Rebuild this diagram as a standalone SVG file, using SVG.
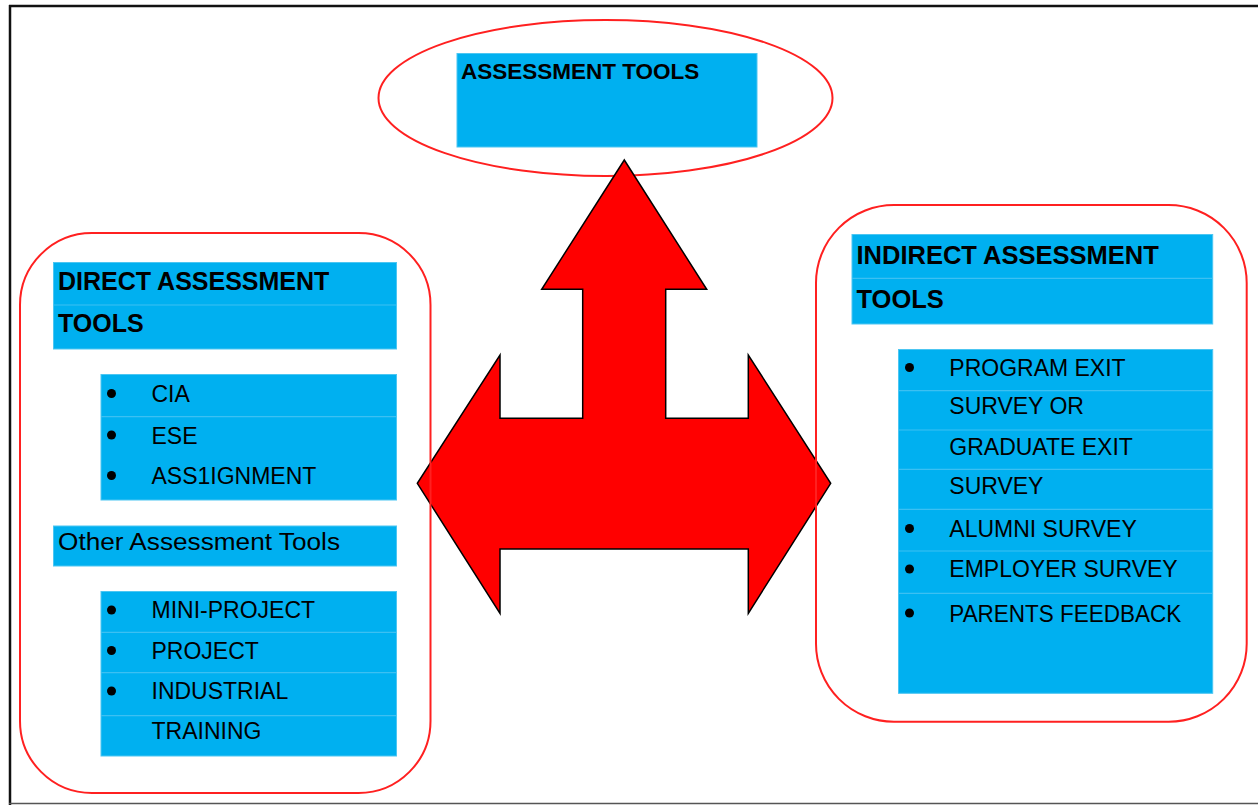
<svg xmlns="http://www.w3.org/2000/svg" width="1258" height="805" viewBox="0 0 1258 805">
  <style>
    .frame { fill: none; stroke: #ff2020; stroke-width: 2; }
    .blue { fill: #00b0f0; stroke: #4cc6f2; stroke-width: 1; }
    .sep { stroke: #3cc0f2; stroke-width: 1.2; }
    .hd { font-family: "Liberation Sans", Arial, sans-serif; font-weight: bold; font-size: 25px; fill: #000; }
    .it { font-family: "Liberation Sans", Arial, sans-serif; font-size: 23px; fill: #000; }
    .dot { fill: #000; }
  </style>
  <rect x="0" y="0" width="1258" height="805" fill="#fff"/>
  <g id="page-border">
    <line x1="9" y1="6" x2="1258" y2="6" stroke="#111" stroke-width="2.5"/>
    <line x1="10" y1="5" x2="10" y2="805" stroke="#111" stroke-width="2.5"/>
    <line x1="9" y1="803.5" x2="1258" y2="803.5" stroke="#555" stroke-width="1.5"/>
  </g>

  <g id="assessment-tools">
    <ellipse cx="605.5" cy="98" rx="227" ry="78" class="frame"/>
    <rect x="457" y="53.5" width="300" height="93.5" class="blue"/>
    <text x="461" y="78.5" class="hd" style="font-size:22.5px">ASSESSMENT TOOLS</text>
  </g>

  <g id="connectors">
    <polygon points="624.3,160 706.7,289.3 665.7,289.3 665.7,418.3 748.3,418.3 748.3,355 830.7,483.3 748.3,613.3 748.3,549 500,549 500,613.3 417.3,483.3 500,355 500,418.3 582.7,418.3 582.7,289.3 541.7,289.3" fill="#ff0000" stroke="#000" stroke-width="1.5" stroke-linejoin="miter"/>
  </g>

  <g id="direct-tools">
    <rect x="20" y="233" width="410.5" height="560" rx="72" ry="72" class="frame"/>
    <rect x="53.5" y="262.5" width="343" height="86.5" class="blue"/>
    <line x1="54" y1="305" x2="396" y2="305" class="sep"/>
    <text x="58" y="290" class="hd">DIRECT ASSESSMENT</text>
    <text x="58" y="332" class="hd">TOOLS</text>

    <rect x="101" y="374.5" width="295.5" height="125.5" class="blue"/>
    <line x1="101" y1="416.7" x2="396" y2="416.7" class="sep"/>
    <circle cx="111.5" cy="393.5" r="4.5" class="dot"/>
    <circle cx="111.5" cy="435" r="4.5" class="dot"/>
    <circle cx="111.5" cy="475.5" r="4.5" class="dot"/>
    <text x="151.5" y="401.5" class="it">CIA</text>
    <text x="151.5" y="443.5" class="it">ESE</text>
    <text x="151.5" y="484" class="it">ASS1IGNMENT</text>

    <rect x="53.5" y="526" width="343" height="40" class="blue"/>
    <text x="58" y="550" class="it" textLength="282" lengthAdjust="spacingAndGlyphs">Other Assessment Tools</text>

    <rect x="101" y="591.5" width="295.5" height="164.5" class="blue"/>
    <line x1="101" y1="632.3" x2="396" y2="632.3" class="sep"/>
    <line x1="101" y1="672.7" x2="396" y2="672.7" class="sep"/>
    <line x1="101" y1="715.7" x2="396" y2="715.7" class="sep"/>
    <circle cx="111.5" cy="610" r="4.5" class="dot"/>
    <circle cx="111.5" cy="650.5" r="4.5" class="dot"/>
    <circle cx="111.5" cy="691" r="4.5" class="dot"/>
    <text x="151.5" y="618.3" class="it">MINI-PROJECT</text>
    <text x="151.5" y="659" class="it">PROJECT</text>
    <text x="151.5" y="699.3" class="it">INDUSTRIAL</text>
    <text x="151.5" y="739.3" class="it">TRAINING</text>
  </g>

  <g id="indirect-tools">
    <rect x="816" y="205" width="430.7" height="516.7" rx="78" ry="78" class="frame"/>
    <rect x="852" y="234.5" width="360.7" height="89.5" class="blue"/>
    <line x1="852" y1="278.3" x2="1212" y2="278.3" class="sep"/>
    <text x="856.5" y="264" class="hd" style="font-size:25.5px">INDIRECT ASSESSMENT</text>
    <text x="856.5" y="308.3" class="hd" style="font-size:25.5px">TOOLS</text>

    <rect x="898.5" y="349.5" width="314.2" height="343.8" class="blue"/>
    <line x1="899" y1="390.7" x2="1212" y2="390.7" class="sep"/>
    <line x1="899" y1="430" x2="1212" y2="430" class="sep"/>
    <line x1="899" y1="469.3" x2="1212" y2="469.3" class="sep"/>
    <line x1="899" y1="509.3" x2="1212" y2="509.3" class="sep"/>
    <line x1="899" y1="551" x2="1212" y2="551" class="sep"/>
    <line x1="899" y1="593.3" x2="1212" y2="593.3" class="sep"/>
    <circle cx="909.5" cy="367.5" r="4.5" class="dot"/>
    <circle cx="909.5" cy="528.5" r="4.5" class="dot"/>
    <circle cx="909.5" cy="569" r="4.5" class="dot"/>
    <circle cx="909.5" cy="613" r="4.5" class="dot"/>
    <text x="949.3" y="376" class="it">PROGRAM EXIT</text>
    <text x="949.3" y="414.3" class="it">SURVEY OR</text>
    <text x="949.3" y="455" class="it">GRADUATE EXIT</text>
    <text x="949.3" y="494" class="it">SURVEY</text>
    <text x="949.3" y="536.7" class="it">ALUMNI SURVEY</text>
    <text x="949.3" y="577.3" class="it">EMPLOYER SURVEY</text>
    <text x="949.3" y="621.7" class="it" textLength="232" lengthAdjust="spacingAndGlyphs">PARENTS FEEDBACK</text>
  </g>
</svg>
